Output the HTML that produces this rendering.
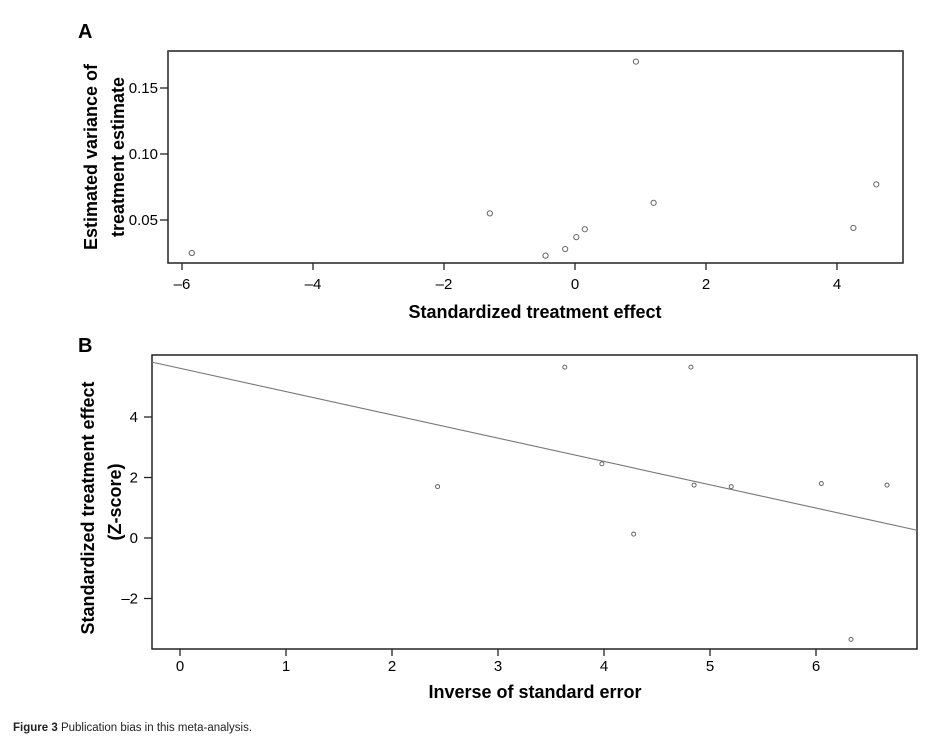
<!DOCTYPE html>
<html><head><meta charset="utf-8"><style>
body{margin:0;background:#fff;}
svg{display:block;font-family:"Liberation Sans",Arial,sans-serif;}
</style></head><body>
<svg width="930" height="738" viewBox="0 0 930 738">
<g id="a"></g><g id="b"></g>
</svg>
<script>
// Panel A data
const aEffect = [-5.85, -1.3, -0.45, -0.15, 0.02, 0.15, 0.93, 1.2, 4.25, 4.6];
const aVariance = [0.025, 0.055, 0.023, 0.028, 0.037, 0.043, 0.170, 0.063, 0.044, 0.077];
const aXTicks = [-6, -4, -2, 0, 2, 4];
const aYTicks = [0.05, 0.10, 0.15];
// Panel B data
const bInvSE = [3.63, 4.82, 2.43, 3.98, 4.28, 4.85, 5.2, 6.05, 6.67, 6.33];
const bZ = [5.65, 5.65, 1.7, 2.45, 0.13, 1.75, 1.7, 1.8, 1.75, -3.35];
const bXTicks = [0, 1, 2, 3, 4, 5, 6];
const bYTicks = [-2, 0, 2, 4];
const bFit = [5.61, -0.77]; // intercept, slope

const NS = "http://www.w3.org/2000/svg";
function mk(parent, tag, attrs, text){
  const e = document.createElementNS(NS, tag);
  for (const k in attrs) e.setAttribute(k, attrs[k]);
  if (text !== undefined) e.textContent = text;
  parent.appendChild(e); return e;
}
function fmtNeg(v, d){ const s = Math.abs(v).toFixed(d); return v < 0 ? "\u2013" + s : s; }

// ---- Panel A
const ga = document.getElementById('a');
const ax = v => 575 + v * 65.5;
const ay = v => 88 + (0.15 - v) * 1320;
let t;
t = mk(ga,'text',{x:78,y:38,'font-size':20,'font-weight':'bold'},'A');
 
t = mk(ga,'rect',{x:168,y:51,width:735,height:212,fill:'none',stroke:'#222','stroke-width':1.5});
 
t = mk(ga,'line',{x1:168,y1:51,x2:903,y2:51,stroke:'#555','stroke-width':2});
aXTicks.forEach(v=>{
  const x = ax(v);
  let l = mk(ga,'line',{x1:x,y1:263,x2:x,y2:270,stroke:'#222','stroke-width':1.3});
   
  let s = mk(ga,'text',{x:x,y:289,'font-size':15,'text-anchor':'middle'},fmtNeg(v,0));
   
});
aYTicks.forEach(v=>{
  const y = ay(v);
  let l = mk(ga,'line',{x1:160,y1:y,x2:168,y2:y,stroke:'#222','stroke-width':1.3});
   
  let s = mk(ga,'text',{x:158,y:y+5,'font-size':15,'text-anchor':'end'},v.toFixed(2));
   
});
aEffect.forEach((v,i)=>{
  let c = mk(ga,'circle',{cx:ax(v),cy:ay(aVariance[i]),r:2.6,fill:'none',stroke:'#666','stroke-width':1});
   
});
t = mk(ga,'text',{x:535,y:318,'font-size':18,'font-weight':'bold','text-anchor':'middle'},'Standardized treatment effect');
 
t = mk(ga,'text',{transform:'translate(97,157) rotate(-90)','font-size':18,'font-weight':'bold','text-anchor':'middle'},'Estimated variance of');
 
t = mk(ga,'text',{transform:'translate(124,157) rotate(-90)','font-size':18,'font-weight':'bold','text-anchor':'middle'},'treatment estimate');
 

// ---- Panel B
const gb = document.getElementById('b');
const bx = v => 180 + v * 106;
const by = v => 538 - v * 30.25;
t = mk(gb,'text',{x:78,y:352,'font-size':20,'font-weight':'bold'},'B');
 
t = mk(gb,'rect',{x:152,y:355,width:765,height:294,fill:'none',stroke:'#222','stroke-width':1.5});
 
bXTicks.forEach(v=>{
  const x = bx(v);
  let l = mk(gb,'line',{x1:x,y1:649,x2:x,y2:656,stroke:'#222','stroke-width':1.3});
   
  let s = mk(gb,'text',{x:x,y:671,'font-size':15,'text-anchor':'middle'},String(v));
   
});
bYTicks.forEach(v=>{
  const y = by(v);
  let l = mk(gb,'line',{x1:144,y1:y,x2:152,y2:y,stroke:'#222','stroke-width':1.3});
   
  let s = mk(gb,'text',{x:138,y:y+5,'font-size':15,'text-anchor':'end'},fmtNeg(v,0));
   
});
const x0 = (152-180)/106, x1 = (917-180)/106;
t = mk(gb,'line',{x1:bx(x0),y1:by(bFit[0]+bFit[1]*x0),x2:bx(x1),y2:by(bFit[0]+bFit[1]*x1),stroke:'#777','stroke-width':1.1});
 
bInvSE.forEach((v,i)=>{
  let c = mk(gb,'circle',{cx:bx(v),cy:by(bZ[i]),r:2,fill:'none',stroke:'#666','stroke-width':1});
   
});
t = mk(gb,'text',{x:535,y:698,'font-size':18,'font-weight':'bold','text-anchor':'middle'},'Inverse of standard error');
 
t = mk(gb,'text',{transform:'translate(94,508) rotate(-90)','font-size':18,'font-weight':'bold','text-anchor':'middle'},'Standardized treatment effect');
 
t = mk(gb,'text',{transform:'translate(121,502) rotate(-90)','font-size':18,'font-weight':'bold','text-anchor':'middle'},'(Z-score)');
 

// caption
const cap = mk(document.querySelector('svg'),'text',{x:13,y:731,'font-size':11.5,fill:'#222'});


mk(cap,'tspan',{'font-weight':'bold'},'Figure 3 ');
mk(cap,'tspan',{},'Publication bias in this meta-analysis.');
</script>
</body></html>
